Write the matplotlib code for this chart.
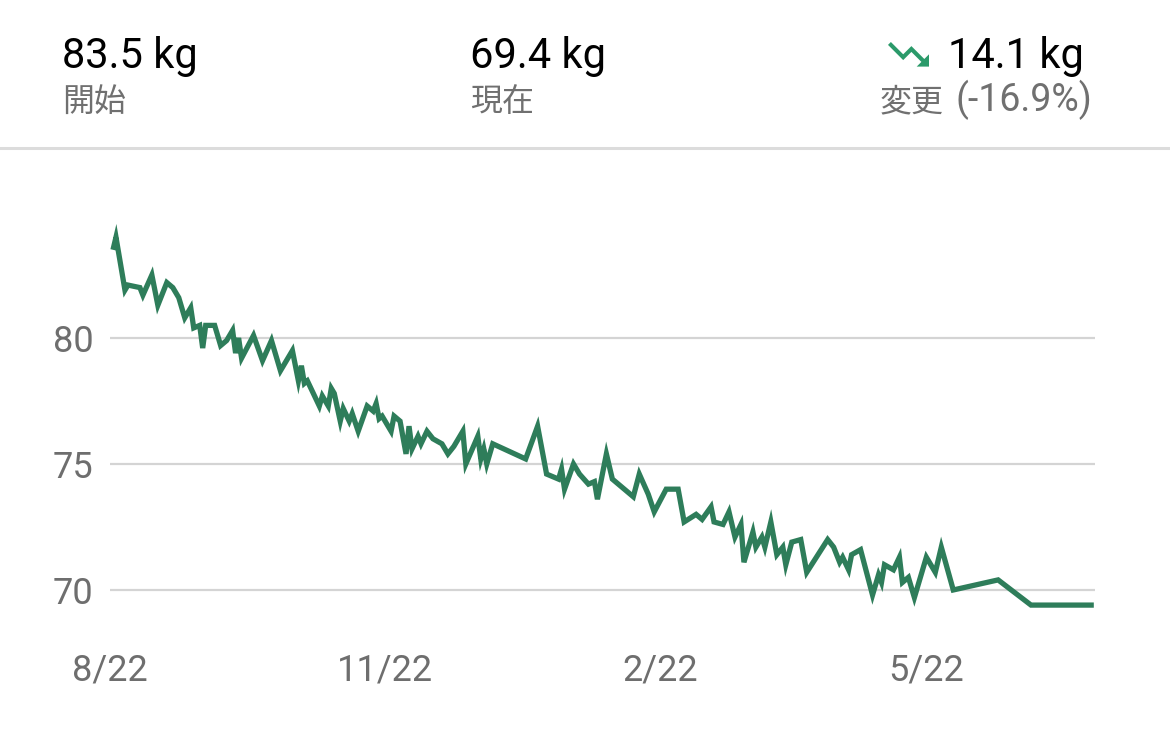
import matplotlib
matplotlib.use("Agg")
import matplotlib.pyplot as plt
from matplotlib.patches import Polygon
from matplotlib.lines import Line2D
import pandas as pd

# ---- data ----
START = "2021-08-22"
days = [1, 2, 5, 6, 10, 11, 14, 16, 19, 21,
        23, 25, 27, 28, 30, 31, 32, 35, 37, 39,
        41, 42, 43, 44, 48, 51, 54, 57, 61, 63,
        64, 65, 66, 70, 71, 73, 74, 75, 77, 78,
        80, 81, 83, 86, 88, 89, 90, 91, 94, 95,
        97, 99, 100, 101, 103, 104, 106, 108, 111, 113,
        115, 118, 119, 123, 124, 125, 126, 128, 139, 143,
        146, 150, 151, 152, 155, 157, 160, 162, 163, 166,
        168, 175, 177, 180, 182, 186, 190, 192, 196, 198,
        201, 202, 205, 207, 209, 211, 212, 215, 216, 218,
        219, 221, 223, 225, 226, 228, 231, 233, 240, 242,
        244, 245, 247, 248, 251, 255, 257, 258, 259, 262,
        264, 265, 267, 269, 273, 276, 278, 282, 297, 308,
        329]
weights = [83.5, 84.0, 81.9, 82.1, 82.0, 81.7, 82.5, 81.3, 82.2, 82.0,
           81.6, 80.8, 81.2, 80.4, 80.5, 79.6, 80.5, 80.5, 79.7, 79.9,
           80.3, 79.4, 80.0, 79.2, 80.1, 79.1, 79.9, 78.7, 79.5, 78.3,
           78.9, 78.2, 78.3, 77.3, 77.7, 77.3, 78.0, 77.8, 76.7, 77.2,
           76.7, 77.0, 76.3, 77.3, 77.1, 77.4, 76.8, 76.9, 76.3, 76.9,
           76.7, 75.4, 76.5, 75.6, 76.1, 75.8, 76.3, 76.0, 75.8, 75.4,
           75.7, 76.3, 75.0, 76.1, 75.2, 75.6, 75.0, 75.8, 75.2, 76.5,
           74.6, 74.4, 74.8, 74.0, 75.0, 74.6, 74.2, 74.3, 73.6, 75.4,
           74.4, 73.7, 74.6, 73.8, 73.1, 74.0, 74.0, 72.7, 73.0, 72.8,
           73.3, 72.7, 72.6, 73.1, 72.1, 72.6, 71.1, 72.3, 71.7, 72.1,
           71.7, 72.7, 71.4, 71.7, 71.0, 71.9, 72.0, 70.7, 72.0, 71.7,
           71.1, 71.3, 70.8, 71.4, 71.6, 69.8, 70.6, 70.3, 71.0, 70.8,
           71.3, 70.3, 70.5, 69.7, 71.3, 70.7, 71.7, 70.0, 70.4, 69.4,
           69.4]
tick_dates = ["2021-08-22", "2021-11-22", "2022-02-22", "2022-05-22"]
tick_labels = ["8/22", "11/22", "2/22", "5/22"]
y_ticks = [70, 75, 80]
header_values = ["83.5 kg", "69.4 kg", "14.1 kg"]
header_labels = ["開始", "現在", "変更"]
change_pct = "(-16.9%)"

# ---- figure ----
W, H = 1170, 746
fig = plt.figure(figsize=(W / 100, H / 100), dpi=100)
fig.patch.set_facecolor("white")
FONT = ["Roboto", "Noto Sans CJK JP", "DejaVu Sans"]
plt.rcParams["font.family"] = FONT

def fx(x):
    return x / W

def fy(y):
    return 1 - y / H

# axes: x 110..1095 px, y 200..625 px
ax = fig.add_axes([fx(110), fy(625), fx(1095) - fx(110), fy(200) - fy(625)])
start = pd.Timestamp(START)
dates = [start + pd.Timedelta(days=d) for d in days]
ax.plot(dates, weights, color="#2e7d5a", lw=3.8, solid_joinstyle="miter",
        solid_capstyle="butt", zorder=3)
ax.set_xlim(start, start + pd.Timedelta(days=329.4))
ax.set_ylim(68.61, 85.476)
for s in ax.spines.values():
    s.set_visible(False)
ax.set_yticks(y_ticks)
ax.set_yticklabels([str(v) for v in y_ticks])
ax.set_xticks([pd.Timestamp(t) for t in tick_dates])
ax.set_xticklabels(tick_labels)
ax.grid(axis="y", color="#d4d4d4", lw=1.6)
ax.grid(axis="x", visible=False)
ax.set_axisbelow(True)
ax.tick_params(axis="both", length=0, labelsize=26, labelcolor="#6e6e6e")
ax.tick_params(axis="y", pad=12)
ax.tick_params(axis="x", pad=20)
ax.set_facecolor("none")

# header
xs = [62, 470, 948]
for x, v in zip(xs, header_values):
    fig.text(fx(x), fy(68), v, fontsize=30, color="#000000", va="baseline",
             ha="left", family=FONT)
lxs = [62, 470, 880]
for x, t in zip(lxs, header_labels):
    fig.text(fx(x), fy(111), t, fontsize=23, color="#707070", va="baseline",
             ha="left", family=FONT)
fig.text(fx(955), fy(111), change_pct, fontsize=27, color="#707070",
         va="baseline", ha="left", family=FONT)

# separator
fig.add_artist(Line2D([0, 1], [fy(148), fy(148)], transform=fig.transFigure,
                      color="#dcdcdc", lw=2.2))

# trending-down icon
icon = [(16, 18), (18.29, 15.71), (13.41, 10.83), (9.41, 14.83), (2, 7.41),
        (3.41, 6), (9.41, 12), (13.41, 8), (19.71, 14.29), (22, 12), (22, 18)]
sc = 2.05
pts = [(fx(888 + (u - 2) * sc), fy(42 + (v - 6) * sc)) for u, v in icon]
fig.add_artist(Polygon(pts, closed=True, transform=fig.transFigure,
                       facecolor="#2b9a6a", edgecolor="none"))

fig.savefig("out.png", dpi=100, facecolor="white")
